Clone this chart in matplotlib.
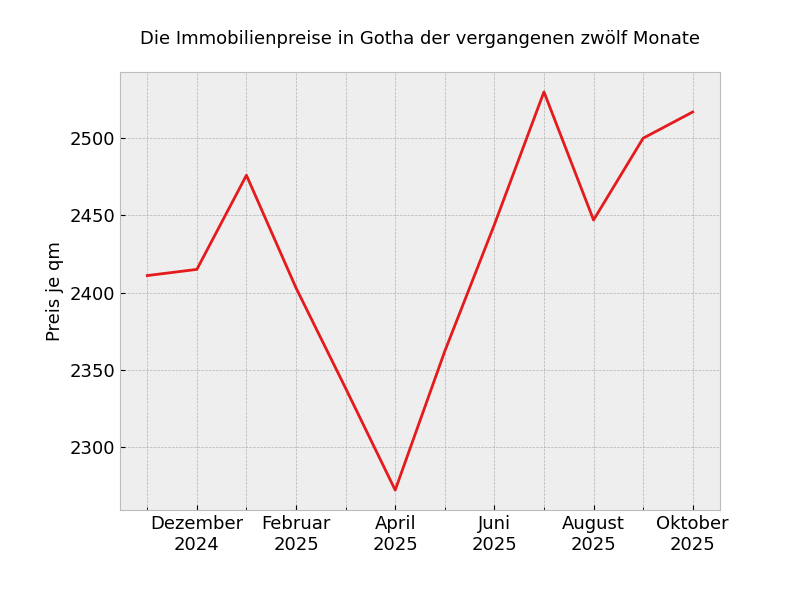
import matplotlib
matplotlib.use('Agg')
import matplotlib.pyplot as plt
from matplotlib.ticker import FixedLocator

# Monthly price per square metre
months = ['11/2024', '12/2024', '01/2025', '02/2025', '03/2025', '04/2025',
          '05/2025', '06/2025', '07/2025', '08/2025', '09/2025', '10/2025']
prices = [2411, 2415, 2476, 2403, 2338, 2272, 2362, 2444, 2530, 2447, 2500, 2517]

monat_namen = ['Januar', 'Februar', 'März', 'April', 'Mai', 'Juni', 'Juli',
               'August', 'September', 'Oktober', 'November', 'Dezember']

plt.style.use('bmh')
plt.rcParams['font.size'] = 13

fig, ax = plt.subplots(figsize=(8, 6), dpi=100)
fig.subplots_adjust(left=0.15, right=0.9, bottom=0.15, top=0.88)

x = list(range(len(months)))
ax.plot(x, prices, color='#e41a1c', linewidth=2)

# label every second month (December, February, ...) with German names
major = [i for i, m in enumerate(months) if int(m[:2]) % 2 == 0]
labels = [f"{monat_namen[int(months[i][:2]) - 1]}\n{months[i][3:]}" for i in major]
ax.set_xticks(major)
ax.set_xticklabels(labels)
ax.xaxis.set_minor_locator(FixedLocator(x))
ax.tick_params(labelsize=13)

ax.grid(True, which='both', linestyle='--', linewidth=0.5, color='#b2b2b2')

ax.set_title('Die Immobilienpreise in Gotha der vergangenen zwölf Monate',
             fontsize=13, pad=20)
ax.set_ylabel('Preis je qm', fontsize=13)

fig.savefig('out.png', dpi=100)
